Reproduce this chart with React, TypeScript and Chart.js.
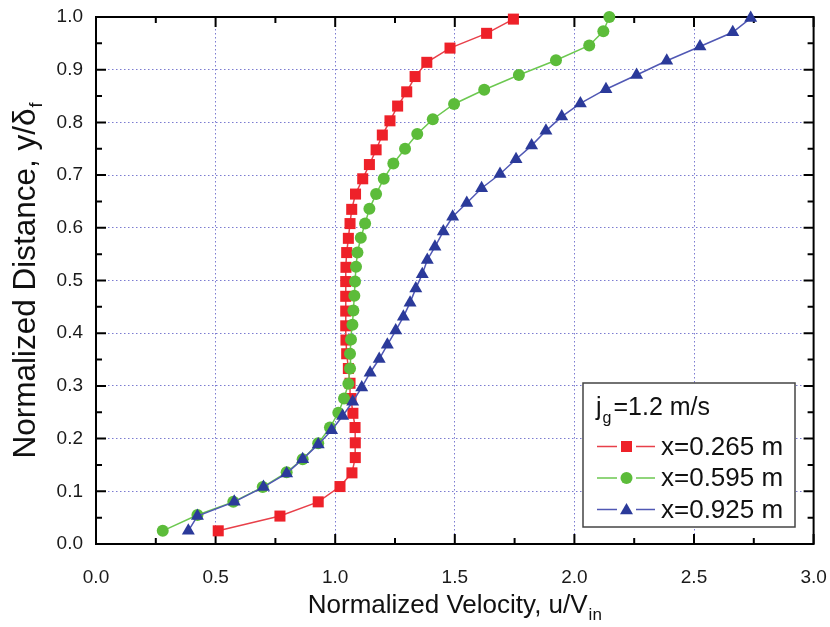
import React, { useEffect, useRef } from "react";
import { Chart, registerables } from "chart.js";

Chart.register(...registerables);

const FONT = "'Liberation Sans', Arial, Helvetica, sans-serif";

const xTickValues = [0, 0.5, 1.0, 1.5, 2.0, 2.5, 3.0];
const yTickValues = [0, 0.1, 0.2, 0.3, 0.4, 0.5, 0.6, 0.7, 0.8, 0.9, 1.0];
const xMinorValues = [0.25, 0.75, 1.25, 1.75, 2.25, 2.75];
const yMinorValues = [0.05, 0.15, 0.25, 0.35, 0.45, 0.55, 0.65, 0.75, 0.85, 0.95];

const xTitleMain = "Normalized Velocity, u/V";
const xTitleSub = "in";
const yTitleMain = "Normalized Distance, y/\u03b4";
const yTitleSub = "f";
const legendTitleMain = "j";
const legendTitleSub = "g";
const legendTitleRest = "=1.2 m/s";
const seriesLabels = ["x=0.265 m", "x=0.595 m", "x=0.925 m"];

const redX = [0.511, 0.769, 0.929, 1.02, 1.07, 1.084, 1.084, 1.083, 1.074, 1.066, 1.062, 1.055, 1.048, 1.045, 1.044, 1.044, 1.044, 1.044, 1.045, 1.048, 1.055, 1.062, 1.069, 1.085, 1.115, 1.143, 1.171, 1.197, 1.229, 1.261, 1.299, 1.334, 1.383, 1.48, 1.633, 1.745];
const redY = [0.025, 0.053, 0.08, 0.109, 0.135, 0.164, 0.192, 0.221, 0.248, 0.276, 0.305, 0.333, 0.361, 0.387, 0.414, 0.442, 0.47, 0.498, 0.525, 0.553, 0.58, 0.608, 0.635, 0.664, 0.693, 0.72, 0.748, 0.776, 0.803, 0.831, 0.858, 0.887, 0.914, 0.941, 0.969, 0.996];

const greenX = [0.279, 0.424, 0.574, 0.697, 0.797, 0.864, 0.929, 0.978, 1.013, 1.037, 1.055, 1.062, 1.062, 1.066, 1.072, 1.076, 1.08, 1.083, 1.087, 1.093, 1.107, 1.125, 1.143, 1.171, 1.203, 1.243, 1.292, 1.343, 1.408, 1.497, 1.623, 1.768, 1.923, 2.062, 2.121, 2.146];
const greenY = [0.025, 0.055, 0.08, 0.108, 0.136, 0.161, 0.191, 0.221, 0.249, 0.276, 0.304, 0.333, 0.361, 0.388, 0.416, 0.443, 0.471, 0.498, 0.526, 0.553, 0.581, 0.608, 0.636, 0.664, 0.693, 0.722, 0.75, 0.778, 0.806, 0.835, 0.862, 0.89, 0.918, 0.946, 0.973, 1.0];

const blueX = [0.386, 0.424, 0.578, 0.7, 0.797, 0.864, 0.929, 0.985, 1.031, 1.073, 1.111, 1.146, 1.184, 1.218, 1.253, 1.285, 1.313, 1.337, 1.364, 1.385, 1.417, 1.452, 1.491, 1.55, 1.612, 1.689, 1.756, 1.821, 1.881, 1.947, 2.025, 2.132, 2.26, 2.386, 2.525, 2.662, 2.737];
const blueY = [0.025, 0.053, 0.08, 0.108, 0.134, 0.161, 0.189, 0.216, 0.243, 0.27, 0.297, 0.325, 0.351, 0.378, 0.405, 0.431, 0.458, 0.485, 0.512, 0.539, 0.564, 0.593, 0.621, 0.647, 0.675, 0.702, 0.73, 0.756, 0.784, 0.811, 0.836, 0.863, 0.89, 0.917, 0.944, 0.971, 0.998];

const RED = "#ee2129";
const RED_LINE = "#e8404a";
const GREEN = "#5cbc3a";
const GREEN_LINE = "#6cc850";
const BLUE = "#2b3a9a";
const BLUE_LINE = "#5058b4";

const toPoints = (xs: number[], ys: number[]) => xs.map((x, i) => ({ x, y: ys[i] }));

function drawMarker(ctx: CanvasRenderingContext2D, style: string, x: number, y: number, color: string) {
  ctx.save();
  ctx.fillStyle = color;
  ctx.beginPath();
  if (style === "rect") {
    ctx.rect(x - 5.5, y - 5.5, 11, 11);
  } else if (style === "circle") {
    ctx.arc(x, y, 6, 0, Math.PI * 2);
  } else {
    const r = 7.5;
    ctx.moveTo(x, y - r);
    ctx.lineTo(x + r * Math.sin((2 * Math.PI) / 3), y - r * Math.cos((2 * Math.PI) / 3));
    ctx.lineTo(x - r * Math.sin((2 * Math.PI) / 3), y - r * Math.cos((2 * Math.PI) / 3));
    ctx.closePath();
  }
  ctx.fill();
  ctx.restore();
}

function drawSubText(
  ctx: CanvasRenderingContext2D,
  main: string,
  sub: string,
  cx: number,
  baseline: number,
  size: number,
  subSize: number,
  subDrop: number
) {
  ctx.font = `${size}px ${FONT}`;
  const wMain = ctx.measureText(main).width;
  ctx.font = `${subSize}px ${FONT}`;
  const wSub = ctx.measureText(sub).width;
  const start = cx - (wMain + wSub + 1) / 2;
  ctx.textAlign = "left";
  ctx.textBaseline = "alphabetic";
  ctx.font = `${size}px ${FONT}`;
  ctx.fillText(main, start, baseline);
  ctx.font = `${subSize}px ${FONT}`;
  ctx.fillText(sub, start + wMain + 1, baseline + subDrop);
}

const framePlugin = {
  id: "frameTicks",
  beforeDatasetsDraw(chart: any) {
    const { ctx, chartArea: a, scales } = chart;
    const xs = scales.x;
    const ys = scales.y;
    ctx.save();
    ctx.strokeStyle = "#000";
    ctx.lineWidth = 2;
    ctx.strokeRect(a.left, a.top, a.right - a.left, a.bottom - a.top);
    ctx.beginPath();
    const tickX = (v: number, len: number) => {
      const px = xs.getPixelForValue(v);
      ctx.moveTo(px, a.bottom);
      ctx.lineTo(px, a.bottom - len);
      ctx.moveTo(px, a.top);
      ctx.lineTo(px, a.top + len);
    };
    const tickY = (v: number, len: number) => {
      const py = ys.getPixelForValue(v);
      ctx.moveTo(a.left, py);
      ctx.lineTo(a.left + len, py);
      ctx.moveTo(a.right, py);
      ctx.lineTo(a.right - len, py);
    };
    xTickValues.forEach((v) => tickX(v, 10));
    xMinorValues.forEach((v) => tickX(v, 6));
    yTickValues.forEach((v) => tickY(v, 10));
    yMinorValues.forEach((v) => tickY(v, 6));
    ctx.stroke();
    ctx.restore();
  },
};

const legendPlugin = {
  id: "customLegend",
  afterDatasetsDraw(chart: any) {
    const { ctx } = chart;
    const left = 583;
    const top = 383;
    const right = 795;
    const bottom = 527;
    ctx.save();
    ctx.fillStyle = "#fff";
    ctx.fillRect(left, top, right - left, bottom - top);
    ctx.strokeStyle = "#444";
    ctx.lineWidth = 1.5;
    ctx.strokeRect(left, top, right - left, bottom - top);

    ctx.fillStyle = "#111";
    ctx.textBaseline = "alphabetic";
    ctx.textAlign = "left";
    ctx.font = `25px ${FONT}`;
    ctx.fillText(legendTitleMain, 596, 415);
    const wj = ctx.measureText(legendTitleMain).width;
    ctx.font = `16px ${FONT}`;
    ctx.fillText(legendTitleSub, 596 + wj + 1, 423);
    const wg = ctx.measureText(legendTitleSub).width;
    ctx.font = `25px ${FONT}`;
    ctx.fillText(legendTitleRest, 596 + wj + wg + 3, 415);

    const rows = [
      { y: 446.5, line: RED_LINE, color: RED, style: "rect" },
      { y: 478, line: GREEN_LINE, color: GREEN, style: "circle" },
      { y: 509.5, line: BLUE_LINE, color: BLUE, style: "triangle" },
    ];
    rows.forEach((r, i) => {
      ctx.strokeStyle = r.line;
      ctx.lineWidth = 1.5;
      ctx.beginPath();
      ctx.moveTo(597, r.y);
      ctx.lineTo(617, r.y);
      ctx.moveTo(636, r.y);
      ctx.lineTo(655, r.y);
      ctx.stroke();
      drawMarker(ctx, r.style, 626.5, r.y + (r.style === "triangle" ? 1 : 0), r.color);
      ctx.fillStyle = "#111";
      ctx.font = `26px ${FONT}`;
      ctx.textBaseline = "middle";
      ctx.fillText(seriesLabels[i], 661, r.y + 1);
    });
    ctx.restore();
  },
};

const titlePlugin = {
  id: "axisTitles",
  afterDraw(chart: any) {
    const { ctx, chartArea: a } = chart;
    ctx.save();
    ctx.fillStyle = "#111";
    const cx = (a.left + a.right) / 2;
    drawSubText(ctx, xTitleMain, xTitleSub, cx, 613, 26, 17, 7);
    ctx.restore();

    ctx.save();
    ctx.fillStyle = "#111";
    const cy = (a.top + a.bottom) / 2;
    ctx.translate(35, cy);
    ctx.rotate(-Math.PI / 2);
    drawSubText(ctx, yTitleMain, yTitleSub, 0, 0, 31.5, 18, 7);
    ctx.restore();
  },
};

export default function App() {
  const canvasRef = useRef<HTMLCanvasElement | null>(null);

  useEffect(() => {
    const canvas = canvasRef.current;
    if (!canvas) return;
    const gridColor = (ctx: any) => {
      const v = ctx.tick ? ctx.tick.value : null;
      return v === null || Math.abs(v - ctx.scale.min) < 1e-9 || Math.abs(v - ctx.scale.max) < 1e-9
        ? "rgba(0,0,0,0)"
        : "#7b7bd0";
    };
    const chart = new Chart(canvas, {
      type: "line",
      data: {
        datasets: [
          {
            label: seriesLabels[0],
            data: toPoints(redX, redY),
            borderColor: RED_LINE,
            backgroundColor: RED,
            pointBackgroundColor: RED,
            pointBorderColor: RED,
            pointStyle: "rect",
            pointRadius: 7.8,
            pointBorderWidth: 0,
            borderWidth: 1.5,
            order: 2,
            clip: false,
          },
          {
            label: seriesLabels[1],
            data: toPoints(greenX, greenY),
            borderColor: GREEN_LINE,
            backgroundColor: GREEN,
            pointBackgroundColor: GREEN,
            pointBorderColor: GREEN,
            pointStyle: "circle",
            pointRadius: 6,
            pointBorderWidth: 0,
            borderWidth: 1.5,
            order: 1,
            clip: false,
          },
          {
            label: seriesLabels[2],
            data: toPoints(blueX, blueY),
            borderColor: BLUE_LINE,
            backgroundColor: BLUE,
            pointBackgroundColor: BLUE,
            pointBorderColor: BLUE,
            pointStyle: "triangle",
            pointRadius: 7.5,
            pointBorderWidth: 0,
            borderWidth: 1.5,
            order: 0,
            clip: false,
          },
        ] as any,
      },
      options: {
        animation: false,
        responsive: false,
        events: [],
        layout: { padding: { top: 17, right: 16.4, left: 0, bottom: 0 } },
        plugins: {
          legend: { display: false },
          tooltip: { enabled: false },
          title: { display: false },
        },
        scales: {
          x: {
            type: "linear",
            min: 0,
            max: 3,
            afterBuildTicks: (s: any) => {
              s.ticks = xTickValues.map((v) => ({ value: v }));
            },
            afterFit: (s: any) => {
              s.height = 83;
              s.paddingLeft = 0;
              s.paddingRight = 0;
            },
            ticks: {
              autoSkip: false,
              maxRotation: 0,
              padding: 22,
              color: "#1a1a1a",
              font: { family: FONT, size: 19 },
              callback: (v: any) => Number(v).toFixed(1),
            },
            grid: { drawTicks: false, color: gridColor, lineWidth: 1 },
            border: { display: false, dash: [1.5, 2.5] },
          },
          y: {
            type: "linear",
            min: 0,
            max: 1,
            afterBuildTicks: (s: any) => {
              s.ticks = yTickValues.map((v) => ({ value: v }));
            },
            afterFit: (s: any) => {
              s.width = 96;
              s.paddingTop = 0;
              s.paddingBottom = 0;
            },
            ticks: {
              autoSkip: false,
              padding: 13,
              color: "#1a1a1a",
              font: { family: FONT, size: 19 },
              callback: (v: any) => Number(v).toFixed(1),
            },
            grid: { drawTicks: false, color: gridColor, lineWidth: 1 },
            border: { display: false, dash: [1.5, 2.5] },
          },
        },
      } as any,
      plugins: [framePlugin, legendPlugin, titlePlugin],
    });
    return () => chart.destroy();
  }, []);

  return (
    <div style={{ position: "absolute", left: 0, top: 0, width: 830, height: 627, background: "#fff" }}>
      <canvas ref={canvasRef} width={830} height={627} style={{ display: "block" }} />
    </div>
  );
}
